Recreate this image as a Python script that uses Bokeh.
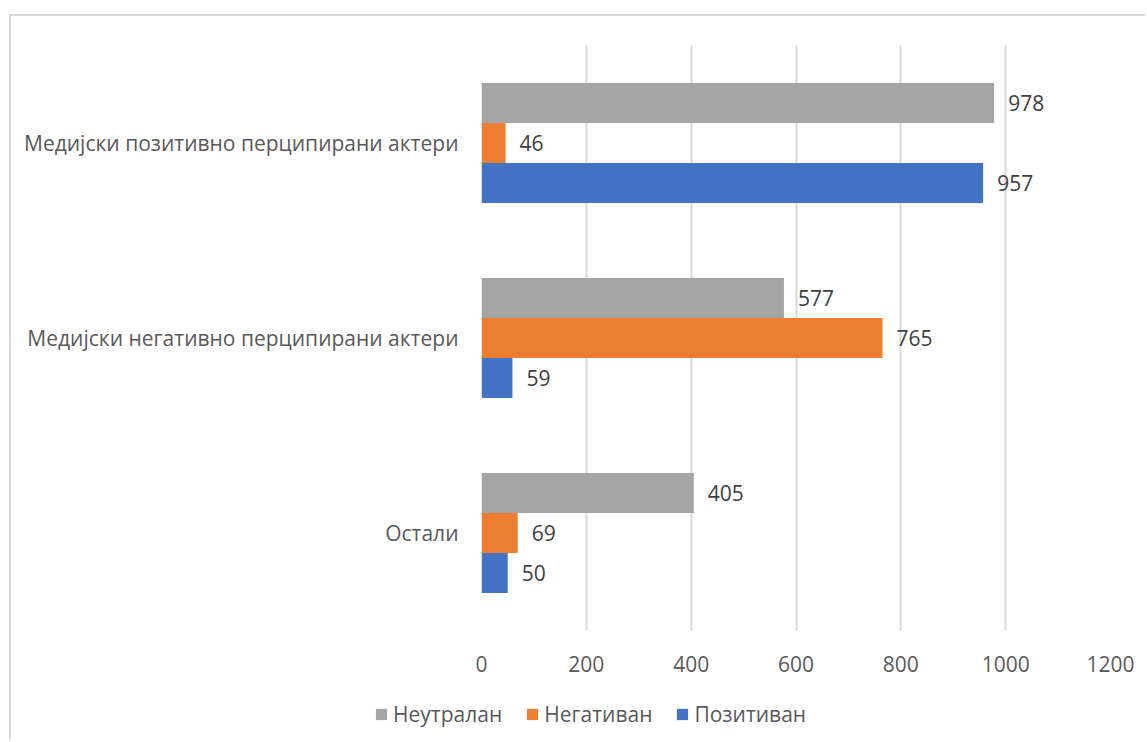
from bokeh.plotting import figure
from bokeh.layouts import column, row
from bokeh.models import ColumnDataSource, LabelSet, FixedTicker, Legend, LegendItem, Range1d
from bokeh.core.properties import value
from bokeh.transform import dodge
from bokeh.embed import file_html
from bokeh.resources import INLINE

categories = ["Медијски позитивно перципирани актери", "Медијски негативно перципирани актери", "Остали"]
series_names = ["Неутралан", "Негативан", "Позитиван"]
neutral = [978, 577, 405]
negative = [46, 765, 69]
positive = [957, 59, 50]
x_ticks = [0, 200, 400, 600, 800, 1000, 1200]

colors = ["#A5A5A5", "#ED7D31", "#4472C4"]
FONT = "Open Sans"
BORDER = "2px solid #D9D9D9"

src = ColumnDataSource(dict(cat=categories, neutral=neutral, negative=negative, positive=positive,
                            neutral_t=[str(v) for v in neutral],
                            negative_t=[str(v) for v in negative],
                            positive_t=[str(v) for v in positive]))

p = figure(width=1136, height=674, y_range=list(reversed(categories)), x_range=(0, 1200),
           output_backend="svg", toolbar_location=None,
           min_border_left=470, min_border_right=37, min_border_top=29, min_border_bottom=60)
p.margin = (14, 0, 0, 9)
p.styles = {"border-top": BORDER, "border-left": BORDER}

bar_h = 40 / 195
offsets = [bar_h, 0, -bar_h]
fields = ["neutral", "negative", "positive"]
for f, off, c in zip(fields, offsets, colors):
    p.hbar(y=dodge("cat", off, range=p.y_range), right=f, left=0, height=bar_h,
           source=src, fill_color=c, line_color=None)
    lbl = LabelSet(x=f, y=dodge("cat", off, range=p.y_range), text=f + "_t", source=src,
                   x_offset=14, text_baseline="middle", text_font=value(FONT),
                   text_font_size="21px", text_color="#404040")
    p.add_layout(lbl)

p.xaxis.ticker = FixedTicker(ticks=x_ticks)
for ax in (p.xaxis[0], p.yaxis[0]):
    ax.axis_line_color = None
    ax.major_tick_line_color = None
    ax.minor_tick_line_color = None
    ax.major_label_text_font = FONT
    ax.major_label_text_font_size = "21px"
    ax.major_label_text_color = "#595959"
p.xaxis.major_label_standoff = 19
p.yaxis.major_label_standoff = 17

p.xgrid.grid_line_color = "#D9D9D9"
p.xgrid.grid_line_width = 2
p.ygrid.grid_line_color = None
p.outline_line_color = None

# legend strip
pl = figure(width=1136, height=52, x_range=Range1d(0, 1), y_range=Range1d(0, 1),
            output_backend="svg", toolbar_location=None,
            min_border_left=0, min_border_right=0, min_border_top=0, min_border_bottom=0)
pl.styles = {"border-left": BORDER}
pl.axis.visible = False
pl.grid.visible = False
pl.outline_line_color = None
items = []
for c, name in zip(colors, series_names):
    r = pl.hbar(y=[0.5], right=[0], left=0, height=0.1, fill_color=c, line_color=None)
    items.append(LegendItem(label=name, renderers=[r]))

legend = Legend(items=items, orientation="horizontal", location=(363, 12),
                label_text_font=FONT, label_text_font_size="21px", label_text_color="#595959",
                glyph_width=14, glyph_height=14, label_standoff=5, spacing=23,
                padding=0, margin=0, border_line_color=None, background_fill_alpha=0)
pl.add_layout(legend, "center")

legend_row = row(pl)
legend_row.margin = (0, 0, 0, 9)
layout = column(p, legend_row, spacing=0)
open("out.html", "w").write(file_html(layout, INLINE))
